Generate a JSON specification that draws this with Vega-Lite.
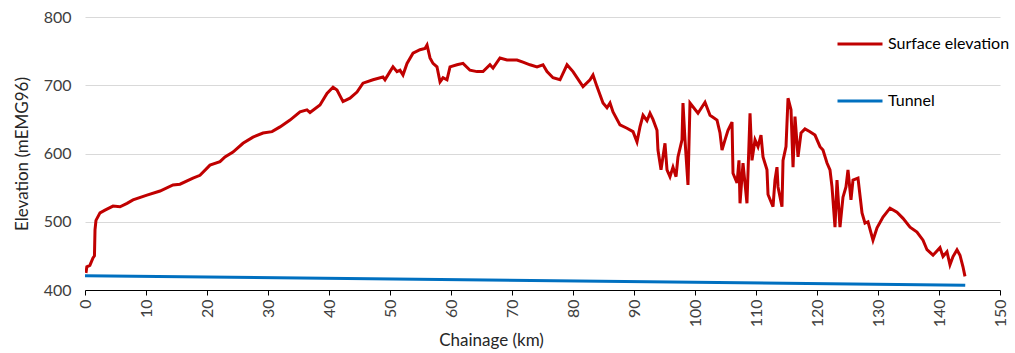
{
  "$schema": "https://vega.github.io/schema/vega-lite/v6.json",
  "autosize": "none",
  "padding": {"left": 85, "top": 17, "right": 15, "bottom": 63},
  "width": 915,
  "height": 273,
  "background": "white",
  "config": {
    "view": {"stroke": null},
    "font": "Lato",
    "axis": {"labelFont": "Lato", "titleFont": "Lato", "labelFontSize": 16, "titleFontSize": 17, "labelColor": "#404040", "titleColor": "#262626", "titleFontWeight": "normal"}
  },
  "data": {"values": [
    {"km": 0.0, "elev": 421, "series": "Tunnel"},
    {"km": 144.3, "elev": 407, "series": "Tunnel"},
    {"km": 0.16, "elev": 425, "series": "Surface elevation"},
    {"km": 0.3, "elev": 434, "series": "Surface elevation"},
    {"km": 0.8, "elev": 436, "series": "Surface elevation"},
    {"km": 1.31, "elev": 447, "series": "Surface elevation"},
    {"km": 1.55, "elev": 450, "series": "Surface elevation"},
    {"km": 1.64, "elev": 488, "series": "Surface elevation"},
    {"km": 1.8, "elev": 502, "series": "Surface elevation"},
    {"km": 2.46, "elev": 513, "series": "Surface elevation"},
    {"km": 3.28, "elev": 517, "series": "Surface elevation"},
    {"km": 4.59, "elev": 523, "series": "Surface elevation"},
    {"km": 5.74, "elev": 522, "series": "Surface elevation"},
    {"km": 6.89, "elev": 527, "series": "Surface elevation"},
    {"km": 7.87, "elev": 532, "series": "Surface elevation"},
    {"km": 10.16, "elev": 539, "series": "Surface elevation"},
    {"km": 12.3, "elev": 545, "series": "Surface elevation"},
    {"km": 14.43, "elev": 554, "series": "Surface elevation"},
    {"km": 15.57, "elev": 555, "series": "Surface elevation"},
    {"km": 17.7, "elev": 564, "series": "Surface elevation"},
    {"km": 18.85, "elev": 568, "series": "Surface elevation"},
    {"km": 20.49, "elev": 583, "series": "Surface elevation"},
    {"km": 22.13, "elev": 588, "series": "Surface elevation"},
    {"km": 22.95, "elev": 595, "series": "Surface elevation"},
    {"km": 24.26, "elev": 602, "series": "Surface elevation"},
    {"km": 25.9, "elev": 615, "series": "Surface elevation"},
    {"km": 27.54, "elev": 624, "series": "Surface elevation"},
    {"km": 29.18, "elev": 630, "series": "Surface elevation"},
    {"km": 30.66, "elev": 632, "series": "Surface elevation"},
    {"km": 31.97, "elev": 639, "series": "Surface elevation"},
    {"km": 33.61, "elev": 649, "series": "Surface elevation"},
    {"km": 35.25, "elev": 661, "series": "Surface elevation"},
    {"km": 36.39, "elev": 664, "series": "Surface elevation"},
    {"km": 36.89, "elev": 660, "series": "Surface elevation"},
    {"km": 38.52, "elev": 671, "series": "Surface elevation"},
    {"km": 39.67, "elev": 688, "series": "Surface elevation"},
    {"km": 40.66, "elev": 697, "series": "Surface elevation"},
    {"km": 41.31, "elev": 693, "series": "Surface elevation"},
    {"km": 42.3, "elev": 676, "series": "Surface elevation"},
    {"km": 43.44, "elev": 681, "series": "Surface elevation"},
    {"km": 44.59, "elev": 690, "series": "Surface elevation"},
    {"km": 45.57, "elev": 703, "series": "Surface elevation"},
    {"km": 47.21, "elev": 708, "series": "Surface elevation"},
    {"km": 48.85, "elev": 712, "series": "Surface elevation"},
    {"km": 49.18, "elev": 708, "series": "Surface elevation"},
    {"km": 50.0, "elev": 720, "series": "Surface elevation"},
    {"km": 50.49, "elev": 727, "series": "Surface elevation"},
    {"km": 51.15, "elev": 720, "series": "Surface elevation"},
    {"km": 51.64, "elev": 722, "series": "Surface elevation"},
    {"km": 52.13, "elev": 715, "series": "Surface elevation"},
    {"km": 52.79, "elev": 732, "series": "Surface elevation"},
    {"km": 53.77, "elev": 747, "series": "Surface elevation"},
    {"km": 54.92, "elev": 752, "series": "Surface elevation"},
    {"km": 55.74, "elev": 754, "series": "Surface elevation"},
    {"km": 56.07, "elev": 759, "series": "Surface elevation"},
    {"km": 56.56, "elev": 740, "series": "Surface elevation"},
    {"km": 57.05, "elev": 732, "series": "Surface elevation"},
    {"km": 57.7, "elev": 727, "series": "Surface elevation"},
    {"km": 58.2, "elev": 705, "series": "Surface elevation"},
    {"km": 58.69, "elev": 711, "series": "Surface elevation"},
    {"km": 59.34, "elev": 708, "series": "Surface elevation"},
    {"km": 59.84, "elev": 727, "series": "Surface elevation"},
    {"km": 60.98, "elev": 730, "series": "Surface elevation"},
    {"km": 61.97, "elev": 732, "series": "Surface elevation"},
    {"km": 63.11, "elev": 722, "series": "Surface elevation"},
    {"km": 64.26, "elev": 720, "series": "Surface elevation"},
    {"km": 65.25, "elev": 720, "series": "Surface elevation"},
    {"km": 66.39, "elev": 730, "series": "Surface elevation"},
    {"km": 66.89, "elev": 725, "series": "Surface elevation"},
    {"km": 68.03, "elev": 740, "series": "Surface elevation"},
    {"km": 69.18, "elev": 737, "series": "Surface elevation"},
    {"km": 70.82, "elev": 737, "series": "Surface elevation"},
    {"km": 71.8, "elev": 734, "series": "Surface elevation"},
    {"km": 72.95, "elev": 730, "series": "Surface elevation"},
    {"km": 74.1, "elev": 727, "series": "Surface elevation"},
    {"km": 75.08, "elev": 730, "series": "Surface elevation"},
    {"km": 75.74, "elev": 720, "series": "Surface elevation"},
    {"km": 76.72, "elev": 711, "series": "Surface elevation"},
    {"km": 77.87, "elev": 708, "series": "Surface elevation"},
    {"km": 79.02, "elev": 730, "series": "Surface elevation"},
    {"km": 80.0, "elev": 720, "series": "Surface elevation"},
    {"km": 81.64, "elev": 698, "series": "Surface elevation"},
    {"km": 82.79, "elev": 708, "series": "Surface elevation"},
    {"km": 83.28, "elev": 715, "series": "Surface elevation"},
    {"km": 83.93, "elev": 698, "series": "Surface elevation"},
    {"km": 84.92, "elev": 674, "series": "Surface elevation"},
    {"km": 85.57, "elev": 667, "series": "Surface elevation"},
    {"km": 86.07, "elev": 674, "series": "Surface elevation"},
    {"km": 86.56, "elev": 661, "series": "Surface elevation"},
    {"km": 87.7, "elev": 642, "series": "Surface elevation"},
    {"km": 88.85, "elev": 637, "series": "Surface elevation"},
    {"km": 89.84, "elev": 632, "series": "Surface elevation"},
    {"km": 90.49, "elev": 617, "series": "Surface elevation"},
    {"km": 90.98, "elev": 639, "series": "Surface elevation"},
    {"km": 91.48, "elev": 656, "series": "Surface elevation"},
    {"km": 92.13, "elev": 648, "series": "Surface elevation"},
    {"km": 92.62, "elev": 659, "series": "Surface elevation"},
    {"km": 93.11, "elev": 650, "series": "Surface elevation"},
    {"km": 93.77, "elev": 634, "series": "Surface elevation"},
    {"km": 93.93, "elev": 605, "series": "Surface elevation"},
    {"km": 94.43, "elev": 576, "series": "Surface elevation"},
    {"km": 95.08, "elev": 615, "series": "Surface elevation"},
    {"km": 95.41, "elev": 576, "series": "Surface elevation"},
    {"km": 95.9, "elev": 566, "series": "Surface elevation"},
    {"km": 96.39, "elev": 580, "series": "Surface elevation"},
    {"km": 96.89, "elev": 566, "series": "Surface elevation"},
    {"km": 97.21, "elev": 595, "series": "Surface elevation"},
    {"km": 97.87, "elev": 620, "series": "Surface elevation"},
    {"km": 98.03, "elev": 674, "series": "Surface elevation"},
    {"km": 98.36, "elev": 620, "series": "Surface elevation"},
    {"km": 98.85, "elev": 554, "series": "Surface elevation"},
    {"km": 99.18, "elev": 674, "series": "Surface elevation"},
    {"km": 100.49, "elev": 659, "series": "Surface elevation"},
    {"km": 101.64, "elev": 675, "series": "Surface elevation"},
    {"km": 102.46, "elev": 656, "series": "Surface elevation"},
    {"km": 103.61, "elev": 649, "series": "Surface elevation"},
    {"km": 104.1, "elev": 630, "series": "Surface elevation"},
    {"km": 104.43, "elev": 605, "series": "Surface elevation"},
    {"km": 104.92, "elev": 620, "series": "Surface elevation"},
    {"km": 105.41, "elev": 634, "series": "Surface elevation"},
    {"km": 106.07, "elev": 646, "series": "Surface elevation"},
    {"km": 106.23, "elev": 571, "series": "Surface elevation"},
    {"km": 106.89, "elev": 557, "series": "Surface elevation"},
    {"km": 107.21, "elev": 590, "series": "Surface elevation"},
    {"km": 107.38, "elev": 527, "series": "Surface elevation"},
    {"km": 107.87, "elev": 586, "series": "Surface elevation"},
    {"km": 108.52, "elev": 527, "series": "Surface elevation"},
    {"km": 109.02, "elev": 659, "series": "Surface elevation"},
    {"km": 109.34, "elev": 590, "series": "Surface elevation"},
    {"km": 109.84, "elev": 620, "series": "Surface elevation"},
    {"km": 110.33, "elev": 610, "series": "Surface elevation"},
    {"km": 110.82, "elev": 627, "series": "Surface elevation"},
    {"km": 111.15, "elev": 595, "series": "Surface elevation"},
    {"km": 111.8, "elev": 576, "series": "Surface elevation"},
    {"km": 111.97, "elev": 540, "series": "Surface elevation"},
    {"km": 112.79, "elev": 522, "series": "Surface elevation"},
    {"km": 113.11, "elev": 561, "series": "Surface elevation"},
    {"km": 113.44, "elev": 580, "series": "Surface elevation"},
    {"km": 113.61, "elev": 551, "series": "Surface elevation"},
    {"km": 114.26, "elev": 522, "series": "Surface elevation"},
    {"km": 114.43, "elev": 590, "series": "Surface elevation"},
    {"km": 114.92, "elev": 610, "series": "Surface elevation"},
    {"km": 115.25, "elev": 681, "series": "Surface elevation"},
    {"km": 115.74, "elev": 664, "series": "Surface elevation"},
    {"km": 116.07, "elev": 580, "series": "Surface elevation"},
    {"km": 116.39, "elev": 654, "series": "Surface elevation"},
    {"km": 116.89, "elev": 595, "series": "Surface elevation"},
    {"km": 117.38, "elev": 630, "series": "Surface elevation"},
    {"km": 118.03, "elev": 636, "series": "Surface elevation"},
    {"km": 118.85, "elev": 632, "series": "Surface elevation"},
    {"km": 119.67, "elev": 627, "series": "Surface elevation"},
    {"km": 120.49, "elev": 610, "series": "Surface elevation"},
    {"km": 120.98, "elev": 605, "series": "Surface elevation"},
    {"km": 121.64, "elev": 586, "series": "Surface elevation"},
    {"km": 122.13, "elev": 576, "series": "Surface elevation"},
    {"km": 122.46, "elev": 551, "series": "Surface elevation"},
    {"km": 122.95, "elev": 492, "series": "Surface elevation"},
    {"km": 123.28, "elev": 561, "series": "Surface elevation"},
    {"km": 123.77, "elev": 492, "series": "Surface elevation"},
    {"km": 124.26, "elev": 536, "series": "Surface elevation"},
    {"km": 124.75, "elev": 551, "series": "Surface elevation"},
    {"km": 125.08, "elev": 576, "series": "Surface elevation"},
    {"km": 125.57, "elev": 532, "series": "Surface elevation"},
    {"km": 125.9, "elev": 561, "series": "Surface elevation"},
    {"km": 126.72, "elev": 564, "series": "Surface elevation"},
    {"km": 127.38, "elev": 513, "series": "Surface elevation"},
    {"km": 127.87, "elev": 498, "series": "Surface elevation"},
    {"km": 128.36, "elev": 500, "series": "Surface elevation"},
    {"km": 129.18, "elev": 473, "series": "Surface elevation"},
    {"km": 129.84, "elev": 491, "series": "Surface elevation"},
    {"km": 130.82, "elev": 507, "series": "Surface elevation"},
    {"km": 131.97, "elev": 520, "series": "Surface elevation"},
    {"km": 133.11, "elev": 514, "series": "Surface elevation"},
    {"km": 134.1, "elev": 505, "series": "Surface elevation"},
    {"km": 135.25, "elev": 492, "series": "Surface elevation"},
    {"km": 136.39, "elev": 485, "series": "Surface elevation"},
    {"km": 137.38, "elev": 473, "series": "Surface elevation"},
    {"km": 138.03, "elev": 459, "series": "Surface elevation"},
    {"km": 139.02, "elev": 451, "series": "Surface elevation"},
    {"km": 140.16, "elev": 462, "series": "Surface elevation"},
    {"km": 140.66, "elev": 449, "series": "Surface elevation"},
    {"km": 141.31, "elev": 456, "series": "Surface elevation"},
    {"km": 141.8, "elev": 437, "series": "Surface elevation"},
    {"km": 142.3, "elev": 449, "series": "Surface elevation"},
    {"km": 142.95, "elev": 459, "series": "Surface elevation"},
    {"km": 143.44, "elev": 451, "series": "Surface elevation"},
    {"km": 143.93, "elev": 434, "series": "Surface elevation"},
    {"km": 144.26, "elev": 420, "series": "Surface elevation"}
  ]},
  "mark": {"type": "line", "strokeWidth": 3, "clip": true},
  "encoding": {
    "x": {"field": "km", "type": "quantitative", "scale": {"domain": [0, 150], "nice": false},
      "axis": {"title": "Chainage (km)", "values": [0,10,20,30,40,50,60,70,80,90,100,110,120,130,140,150], "labelAngle": -90, "grid": false, "domainColor": "#000000", "domainWidth": 1, "tickColor": "#000000", "tickSize": 5, "labelPadding": 4, "titlePadding": 6, "titleX": 406}},
    "y": {"field": "elev", "type": "quantitative", "scale": {"domain": [400, 800], "nice": false, "zero": false},
      "axis": {"title": "Elevation (mEMG96)", "values": [400,500,600,700,800], "domain": false, "ticks": false, "gridColor": "#D9D9D9", "gridWidth": 1, "labelPadding": 14, "titlePadding": 12}},
    "color": {"field": "series", "type": "nominal",
      "scale": {"domain": ["Surface elevation", "Tunnel"], "range": ["#C00000", "#0070C0"]},
      "legend": {"title": null, "orient": "none", "legendX": 751, "legendY": 3, "symbolType": "stroke", "symbolSize": 2025, "symbolStrokeWidth": 3, "rowPadding": 25, "labelFontSize": 16, "labelFont": "Lato", "labelColor": "#000000", "labelOffset": 4}}
  }
}
